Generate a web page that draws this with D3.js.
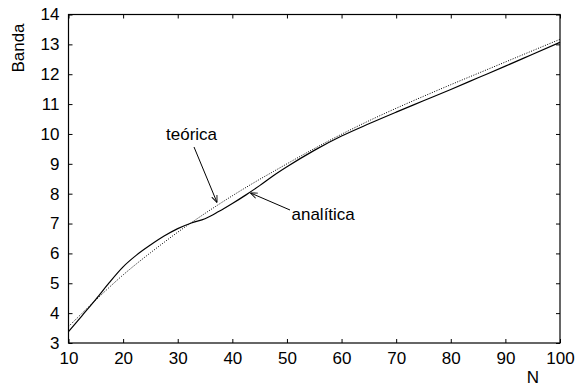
<!DOCTYPE html>
<html>
<head>
<meta charset="utf-8">
<script src="https://cdn.jsdelivr.net/npm/d3@7"></script>
<style>
  body { margin: 0; background: #fff; }
  text { font-family: "Liberation Sans", Arial, sans-serif; fill: #000; }
</style>
</head>
<body>
<svg width="581" height="389"></svg>
<script>
// Data
const nValues = [10, 12.5, 15, 17.5, 20, 22.5, 25, 27.5, 30, 32.5, 35, 37.5, 40, 42.5,
    45, 47.5, 50, 55, 60, 65, 70, 75, 80, 85, 90, 95, 100];
const analitica = [3.38, 3.92, 4.46, 5.03, 5.55, 5.95, 6.28, 6.58, 6.83, 7.02, 7.16, 7.4,
    7.67, 7.96, 8.27, 8.6, 8.9, 9.45, 9.93, 10.34, 10.73, 11.11, 11.49, 11.88, 12.27, 12.67, 13.07];
const teorica = [3.55, 4.0, 4.44, 4.87, 5.28, 5.66, 6.02, 6.37, 6.71, 7.03, 7.34, 7.64,
    7.93, 8.21, 8.48, 8.74, 9.0, 9.51, 9.99, 10.44, 10.86, 11.26, 11.65, 12.03, 12.41, 12.79, 13.17];
const xTicks = [10, 20, 30, 40, 50, 60, 70, 80, 90, 100];
const yTicks = [3, 4, 5, 6, 7, 8, 9, 10, 11, 12, 13, 14];

const svg = d3.select("svg");
const margin = {left: 68.5, right: 21, top: 14.5, bottom: 46};
const width = +svg.attr("width"), height = +svg.attr("height");
const fontSize = "17px";

const x = d3.scaleLinear().domain([10, 100])
    .range([margin.left, width - margin.right]);
const y = d3.scaleLinear().domain([3, 14])
    .range([height - margin.bottom, margin.top]);

const tickLen = 4;

function styleAxis(g, hideLabels) {
    g.select(".domain").remove();
    g.selectAll(".tick line").attr("stroke", "#000");
    g.selectAll(".tick text").style("font-size", fontSize);
    if (hideLabels) g.selectAll(".tick text").remove();
}

// bottom / top axes, ticks pointing inward
svg.append("g")
    .attr("transform", `translate(0,${y(3)})`)
    .call(d3.axisBottom(x).tickValues(xTicks).tickSize(-tickLen).tickPadding(9))
    .call(g => styleAxis(g, false));
svg.append("g")
    .attr("transform", `translate(0,${y(14)})`)
    .call(d3.axisTop(x).tickValues(xTicks).tickSize(-tickLen))
    .call(g => styleAxis(g, true));
svg.append("g")
    .attr("transform", `translate(${x(10)},0)`)
    .call(d3.axisLeft(y).tickValues(yTicks).tickSize(-tickLen).tickPadding(9))
    .call(g => styleAxis(g, false));
svg.append("g")
    .attr("transform", `translate(${x(100)},0)`)
    .call(d3.axisRight(y).tickValues(yTicks).tickSize(-tickLen))
    .call(g => styleAxis(g, true));

// frame
svg.append("rect")
    .attr("x", x(10)).attr("y", y(14))
    .attr("width", x(100) - x(10)).attr("height", y(3) - y(14))
    .attr("fill", "none").attr("stroke", "#000").attr("stroke-width", 1.2);

// curves
const line = d3.line()
    .x((d, i) => x(nValues[i]))
    .y(d => y(d))
    .curve(d3.curveMonotoneX);

svg.append("path")
    .datum(teorica)
    .attr("d", line)
    .attr("fill", "none")
    .attr("stroke", "#000")
    .attr("stroke-width", 1)
    .attr("stroke-dasharray", "1,1.5");

svg.append("path")
    .datum(analitica)
    .attr("d", line)
    .attr("fill", "none")
    .attr("stroke", "#000")
    .attr("stroke-width", 1.2);

// axis labels
svg.append("text")
    .attr("x", 533).attr("y", 383)
    .attr("text-anchor", "middle")
    .style("font-size", fontSize)
    .text("N");
svg.append("text")
    .attr("transform", "translate(24,48) rotate(-90)")
    .attr("text-anchor", "middle")
    .style("font-size", fontSize)
    .text("Banda");

// annotations with arrows
svg.append("defs").append("marker")
    .attr("id", "arrow")
    .attr("viewBox", "0 0 10 10")
    .attr("refX", 10).attr("refY", 5)
    .attr("markerWidth", 7).attr("markerHeight", 7)
    .attr("orient", "auto")
    .append("path")
    .attr("d", "M0,1 L10,5 L0,9")
    .attr("fill", "none")
    .attr("stroke", "#000")
    .attr("stroke-width", 1.3);

const notes = [
    {label: "teórica", tx: 166, ty: 140, x1: 194, y1: 147, n: 37.2, dy: -3, curve: teorica},
    {label: "analítica", tx: 291.5, ty: 220, x1: 290, y1: 210, n: 43.3, dy: 1, curve: analitica}
];

notes.forEach(nt => {
    // tip of the arrow placed on the curve it points to
    const i = d3.bisectLeft(nValues, nt.n);
    const t = (nt.n - nValues[i - 1]) / (nValues[i] - nValues[i - 1]);
    const v = nt.curve[i - 1] + t * (nt.curve[i] - nt.curve[i - 1]);
    svg.append("line")
        .attr("x1", nt.x1).attr("y1", nt.y1)
        .attr("x2", x(nt.n)).attr("y2", y(v) + nt.dy)
        .attr("stroke", "#000")
        .attr("stroke-width", 1)
        .attr("marker-end", "url(#arrow)");
    svg.append("text")
        .attr("x", nt.tx).attr("y", nt.ty)
        .style("font-size", fontSize)
        .text(nt.label);
});
</script>
</body>
</html>
